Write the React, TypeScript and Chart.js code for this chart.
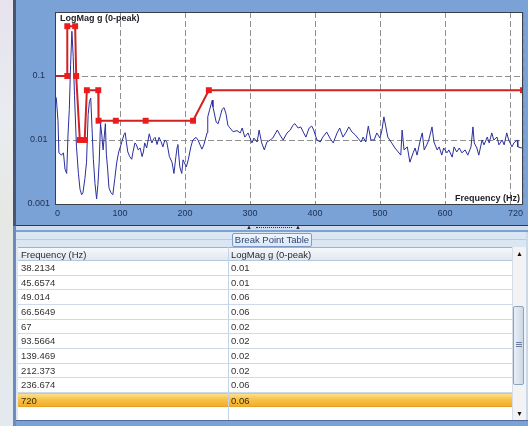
import React, { useEffect, useRef } from 'react';
import { Chart, registerables } from 'chart.js';

Chart.register(...registerables);

// ---- Data ----
const BREAK_FREQ = [0, 18.9, 18.9, 31, 32.6, 38.2134, 45.6574, 49.014, 66.5649, 67, 93.5664, 139.469, 212.373, 236.674, 720];
const BREAK_MAG = [0.1, 0.1, 0.6, 0.6, 0.1, 0.01, 0.01, 0.06, 0.06, 0.02, 0.02, 0.02, 0.02, 0.06, 0.06];
const TABLE_FIRST_ROW = 5;
const TABLE_SELECTED_ROW = 14;

const SPEC_FREQ = [
  0, 2, 4.6, 6, 10, 13, 15.4, 18, 20, 22, 24, 26, 28, 30, 33, 36, 38.5, 41, 43, 46, 48.5, 51, 53, 55, 57, 59, 61.5, 64, 66, 68,
  70, 72, 74, 76, 77.5, 79, 81, 83, 86, 89, 92, 95, 98, 100, 103, 106, 108, 110, 112, 115, 118, 120, 123, 125, 128, 131, 134, 136, 138, 141,
  145, 147, 149, 152, 154, 157, 160, 163, 166, 169, 172, 176, 180, 183, 186, 188, 189, 192, 195, 197, 200, 202, 205, 209, 212, 217, 220, 226, 229, 234,
  235, 238, 242, 243, 248, 251, 254, 257, 260, 263, 266, 269, 274, 280, 285, 288, 292, 297, 300, 303, 306, 311, 314, 318, 322, 326, 331, 335, 342, 346,
  351, 357, 362, 366, 369, 374, 378, 382, 386, 391, 395, 398, 403, 408, 412, 418, 423, 428, 434, 438, 443, 448, 452, 457, 462, 466, 471, 474, 478, 482,
  486, 491, 495, 500, 503, 506, 509, 512, 518, 523, 528, 532, 534, 537, 542, 546, 551, 554, 557, 562, 565, 568, 572, 575, 580, 583, 588, 591, 595, 598,
  603, 606, 611, 614, 618, 622, 626, 631, 635, 640, 643, 645, 649, 652, 657, 660, 665, 668, 672, 675, 680, 683, 688, 691, 695, 698, 703, 706, 711, 712, 718, 720,
];
const SPEC_MAG = [
  0.05, 0.045, 0.02, 0.0063, 0.0058, 0.0063, 0.0035, 0.003, 0.012, 0.03, 0.15, 0.5, 0.2, 0.05, 0.008, 0.003, 0.0017, 0.0014, 0.0015, 0.0025, 0.0045, 0.025, 0.04, 0.045, 0.015, 0.005, 0.0021, 0.0012, 0.002, 0.0045,
  0.018, 0.012, 0.007, 0.012, 0.018, 0.006, 0.0035, 0.0018, 0.0015, 0.0014, 0.0025, 0.0045, 0.0065, 0.0075, 0.0095, 0.012, 0.013, 0.009, 0.0065, 0.0055, 0.005, 0.0065, 0.009, 0.0085, 0.007, 0.0075, 0.0055, 0.0065, 0.009, 0.0075,
  0.0125, 0.0105, 0.009, 0.0105, 0.011, 0.0085, 0.011, 0.0095, 0.0078, 0.01, 0.0093, 0.0055, 0.0045, 0.003, 0.0055, 0.0078, 0.0085, 0.0038, 0.003, 0.0049, 0.0042, 0.0038, 0.0049, 0.0078, 0.01, 0.011, 0.01, 0.0072, 0.0084, 0.013,
  0.023, 0.03, 0.042, 0.033, 0.019, 0.018, 0.023, 0.03, 0.032, 0.026, 0.017, 0.0155, 0.0135, 0.014, 0.0129, 0.0154, 0.0111, 0.0129, 0.0107, 0.009, 0.0107, 0.0093, 0.0143, 0.009, 0.007, 0.0093, 0.01, 0.0107, 0.0143, 0.012,
  0.01, 0.0129, 0.0143, 0.017, 0.018, 0.0154, 0.016, 0.0133, 0.0111, 0.0154, 0.0165, 0.0143, 0.01, 0.0093, 0.0111, 0.0133, 0.0107, 0.009, 0.0129, 0.0154, 0.0111, 0.0133, 0.016, 0.0133, 0.012, 0.0107, 0.0093, 0.0111, 0.0093, 0.0165,
  0.01, 0.01, 0.0129, 0.0107, 0.0143, 0.023, 0.016, 0.0111, 0.009, 0.0075, 0.0065, 0.0058, 0.0143, 0.007, 0.0078, 0.0045, 0.0063, 0.0075, 0.0058, 0.01, 0.0129, 0.007, 0.0084, 0.01, 0.016, 0.0093, 0.007, 0.0078, 0.0058, 0.0075,
  0.0063, 0.007, 0.0054, 0.0078, 0.0065, 0.0075, 0.0063, 0.007, 0.0058, 0.0078, 0.016, 0.009, 0.0075, 0.0058, 0.01, 0.0084, 0.0111, 0.009, 0.0129, 0.01, 0.0111, 0.0084, 0.01, 0.0084, 0.0129, 0.01, 0.0078, 0.009, 0.01, 0.0078, 0.0075, 0.0072,
];

const X_TICKS = [0, 100, 200, 300, 400, 500, 600, 700, 720];
const X_TICK_LABELS = ['0', '100', '200', '300', '400', '500', '600', '', '720'];
const Y_TICKS = [0.001, 0.01, 0.1, 1];
const Y_TICK_LABELS = ['0.001', '0.01', '0.1', ''];

const Y_TITLE = 'LogMag g (0-peak)';
const X_TITLE = 'Frequency (Hz)';
const TABLE_TITLE = 'Break Point Table';
const COL_HEADERS = ['Frequency (Hz)', 'LogMag g (0-peak)'];

const BLUE = '#7ba2d6';
const FONT = "'Liberation Sans', Arial, sans-serif";

const framePlugin = {
  id: 'frame',
  beforeDraw(chart: any) {
    const { ctx, chartArea: a, width, height } = chart;
    ctx.save();
    ctx.fillStyle = BLUE;
    ctx.fillRect(0, 0, width, height);
    ctx.fillStyle = '#ffffff';
    ctx.fillRect(a.left, a.top, a.right - a.left, a.bottom - a.top);
    ctx.restore();
  },
  afterDraw(chart: any) {
    const { ctx, chartArea: a } = chart;
    ctx.save();
    ctx.strokeStyle = '#3a3f48';
    ctx.lineWidth = 1;
    ctx.strokeRect(Math.round(a.left) + 0.5, Math.round(a.top) + 0.5, Math.round(a.right - a.left) - 1, Math.round(a.bottom - a.top));
    ctx.fillStyle = '#1e1e24';
    ctx.font = `bold 9px ${FONT}`;
    ctx.textBaseline = 'top';
    ctx.textAlign = 'left';
    ctx.fillText(Y_TITLE, a.left + 5, a.top + 2);
    ctx.textAlign = 'right';
    ctx.textBaseline = 'bottom';
    ctx.fillText(X_TITLE, a.right - 3, a.bottom - 1);
    ctx.restore();
  },
};

function ChartPanel() {
  const ref = useRef<HTMLCanvasElement>(null);
  useEffect(() => {
    if (!ref.current) return;
    const chart = new Chart(ref.current, {
      type: 'line',
      data: {
        datasets: [
          {
            label: 'Break points',
            data: BREAK_FREQ.map((f, i) => ({ x: f, y: BREAK_MAG[i] })),
            borderColor: '#d02222',
            borderWidth: 2,
            pointStyle: 'rect',
            pointRadius: (c: any) => (c.dataIndex === 0 ? 0 : 4.2),
            pointBorderWidth: 0,
            pointBackgroundColor: '#ec1c1c',
            tension: 0,
          },
          {
            label: 'Spectrum',
            data: SPEC_FREQ.map((f, i) => ({ x: f, y: SPEC_MAG[i] })),
            borderColor: '#2b2f9e',
            borderWidth: 1,
            pointRadius: 0,
            tension: 0,
          },
        ],
      },
      options: {
        animation: false,
        responsive: false,
        maintainAspectRatio: false,
        layout: { padding: { top: 12, right: 5, left: 0, bottom: 0 } },
        plugins: { legend: { display: false }, tooltip: { enabled: false } },
        scales: {
          x: {
            type: 'linear',
            min: 0,
            max: 720,
            afterBuildTicks: (s: any) => {
              s.ticks = X_TICKS.map((v) => ({ value: v }));
            },
            afterFit: (s: any) => {
              s.height = 22;
            },
            ticks: {
              autoSkip: false,
              maxRotation: 0,
              align: 'inner',
              padding: 4,
              color: '#1d2f52',
              font: { family: FONT, size: 9 },
              callback: (_v: any, i: number) => X_TICK_LABELS[i],
            },
            grid: { color: '#8f8f8f', lineWidth: 1, drawTicks: false },
            border: { display: false, dash: [6, 3] },
          },
          y: {
            type: 'logarithmic',
            min: 0.001,
            max: 1,
            afterBuildTicks: (s: any) => {
              s.ticks = Y_TICKS.map((v) => ({ value: v }));
            },
            afterFit: (s: any) => {
              s.width = 39;
            },
            ticks: {
              autoSkip: false,
              crossAlign: 'center',
              padding: 5,
              color: '#1d2f52',
              font: { family: FONT, size: 9 },
              callback: (_v: any, i: number) => Y_TICK_LABELS[i],
            },
            grid: { color: '#8f8f8f', lineWidth: 1, drawTicks: false },
            border: { display: false, dash: [6, 3] },
          },
        },
      } as any,
      plugins: [framePlugin],
    });
    return () => chart.destroy();
  }, []);
  return <canvas ref={ref} width={512} height={226} style={{ display: 'block', width: 512, height: 226 }} />;
}

const abs = (l: number, t: number, w: number, h: number, extra: any = {}) => ({
  position: 'absolute' as const,
  left: l,
  top: t,
  width: w,
  height: h,
  boxSizing: 'border-box' as const,
  ...extra,
});

export default function App() {
  const ROW_TOP = 261;
  const ROW_H = 14.65;
  const rows = BREAK_FREQ.map((f, i) => ({ f, m: BREAK_MAG[i], i })).slice(TABLE_FIRST_ROW);
  return (
    <div style={abs(0, 0, 528, 426, { overflow: 'hidden', background: '#dde7f3', fontFamily: FONT })}>
      {/* left window edge */}
      <div style={abs(0, 0, 13, 426, { background: 'linear-gradient(180deg,#e6e3ee 0%,#e9ecef 30%,#e6e8e4 50%,#e3e9f0 100%)' })} />
      <div style={abs(13, 0, 3, 226, { background: '#47566e' })} />
      <div style={abs(13, 226, 3, 200, { background: '#6b8cbc' })} />

      {/* chart */}
      <div style={abs(16, 0, 512, 226)}>
        <ChartPanel />
      </div>
      <div style={abs(16, 225, 512, 1, { background: '#2e3a4e' })} />

      {/* splitter */}
      <div style={abs(16, 226, 512, 4, { background: '#d3dde9' })} />
      <div style={abs(246, 225, 6, 4, { fontSize: 6, lineHeight: '4px', color: '#223' })}>▲</div>
      <div style={abs(256, 227, 36, 1, { borderTop: '1px dotted #334' })} />
      <div style={abs(295, 225, 6, 4, { fontSize: 6, lineHeight: '4px', color: '#223' })}>▲</div>
      <div style={abs(16, 230, 512, 2, { background: BLUE })} />

      {/* tab strip */}
      <div style={abs(16, 232, 510, 15, { background: '#dbe6f3' })} />
      <div style={abs(16, 239, 510, 1, { background: '#b7cbe4' })} />
      <div
        style={abs(232, 233, 80, 14, {
          background: 'linear-gradient(180deg,#eef4fb,#dde8f5)',
          border: '1px solid #7f9dc8',
          borderRadius: 2,
          color: '#2a4878',
          fontSize: 9.5,
          lineHeight: '12px',
          textAlign: 'center',
          whiteSpace: 'nowrap',
        })}
      >
        {TABLE_TITLE}
      </div>

      {/* header */}
      <div
        style={abs(18, 247, 494, 14, {
          background: 'linear-gradient(180deg,#f6f8fb,#e1e8f1)',
          borderTop: '1px solid #9db2d0',
          borderBottom: '1px solid #b6c7dc',
        })}
      />
      <div style={abs(21, 248, 200, 13, { fontSize: 9.5, lineHeight: '13px', color: '#2b2b2b', whiteSpace: 'nowrap' })}>{COL_HEADERS[0]}</div>
      <div style={abs(231, 248, 250, 13, { fontSize: 9.5, lineHeight: '13px', color: '#2b2b2b', whiteSpace: 'nowrap' })}>{COL_HEADERS[1]}</div>

      {/* rows */}
      <div style={abs(18, ROW_TOP, 494, 160, { background: '#ffffff' })} />
      {rows.map((r, k) => {
        const sel = r.i === TABLE_SELECTED_ROW;
        return (
          <div
            key={k}
            style={abs(18, ROW_TOP + k * ROW_H, 494, ROW_H, {
              background: sel ? 'linear-gradient(180deg,#fce08a 0%,#f8c24a 45%,#f5ae28 100%)' : 'transparent',
              borderBottom: sel ? '1px solid #e3a126' : '1px solid #cddaea',
              borderTop: sel ? '1px solid #f1c45a' : 'none',
            })}
          >
            <div style={abs(3, 0, 200, ROW_H, { fontSize: 9.5, lineHeight: `${ROW_H - 1}px`, color: sel ? '#3a2a08' : '#333', whiteSpace: 'nowrap' })}>{String(r.f)}</div>
            <div style={abs(213, 0, 200, ROW_H, { fontSize: 9.5, lineHeight: `${ROW_H - 1}px`, color: sel ? '#3a2a08' : '#333', whiteSpace: 'nowrap' })}>{String(r.m)}</div>
          </div>
        );
      })}
      <div style={abs(228, 247, 1, 174, { background: '#c4d4e8' })} />

      {/* scrollbar */}
      <div style={abs(512, 247, 14, 174, { background: '#f3f3f3', borderLeft: '1px solid #d6dde6' })} />
      <div style={abs(513, 249, 13, 10, { fontSize: 7, lineHeight: '10px', textAlign: 'center', color: '#111' })}>▲</div>
      <div style={abs(513, 409, 13, 10, { fontSize: 7, lineHeight: '10px', textAlign: 'center', color: '#111' })}>▼</div>
      <div
        style={abs(513, 306, 11, 79, {
          background: 'linear-gradient(90deg,#e9eff7,#cdd9e8)',
          border: '1px solid #8aa2c4',
          borderRadius: 2,
        })}
      />
      <div style={abs(516, 342, 6, 1, { background: '#6a7f9e' })} />
      <div style={abs(516, 344, 6, 1, { background: '#6a7f9e' })} />
      <div style={abs(516, 346, 6, 1, { background: '#6a7f9e' })} />

      {/* right + bottom frame */}
      <div style={abs(526, 232, 2, 194, { background: '#c9d8ea' })} />
      <div style={abs(16, 420, 512, 1, { background: '#4e6d9c' })} />
      <div style={abs(16, 421, 512, 5, { background: BLUE })} />
    </div>
  );
}
